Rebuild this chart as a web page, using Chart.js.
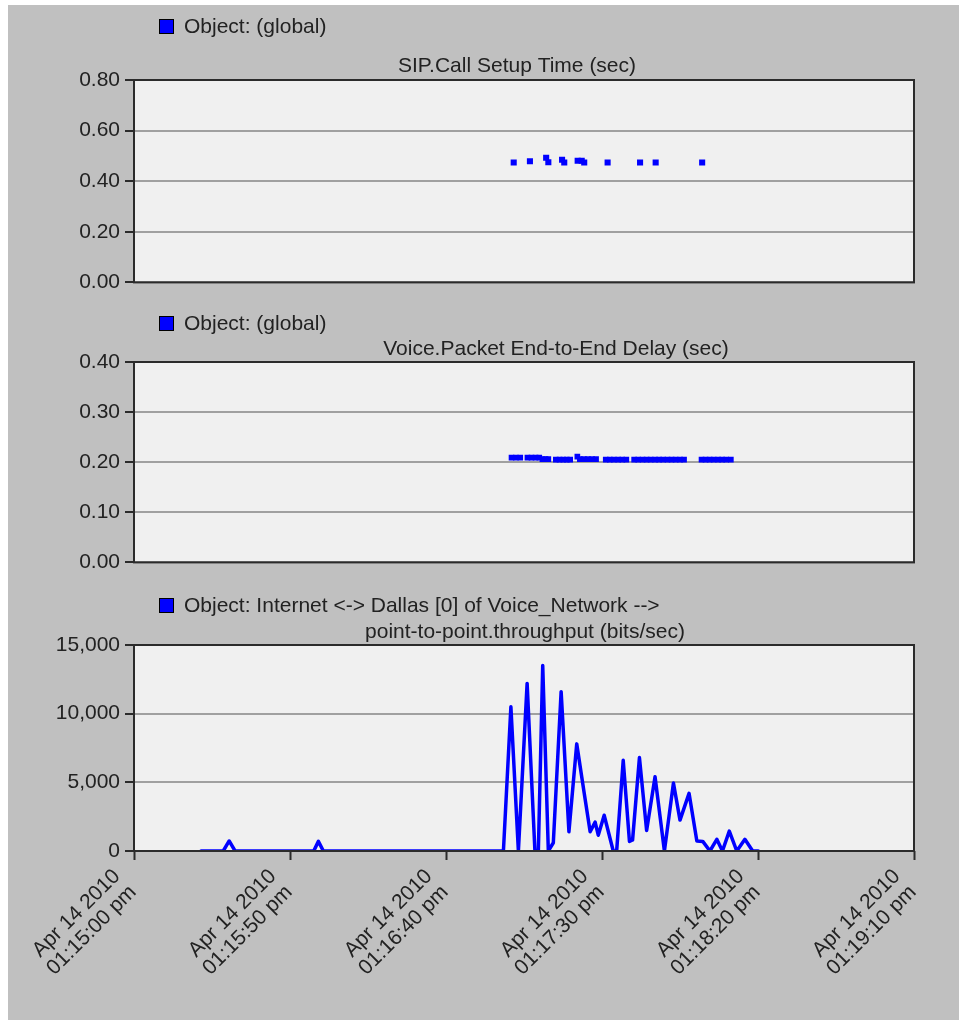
<!DOCTYPE html>
<html>
<head>
<meta charset="utf-8">
<script src="https://cdn.jsdelivr.net/npm/chart.js@4/dist/chart.umd.min.js"></script>
<style>
  html, body { margin: 0; padding: 0; background: #ffffff; }
  #panel { position: absolute; left: 8px; top: 5px; width: 951px; height: 1015px; background: #c0c0c0; }
  #panel canvas { position: absolute; left: 0; }
</style>
</head>
<body>
<div id="panel">
  <canvas id="setup" width="951" height="295" style="top:0px"></canvas>
  <canvas id="delay" width="951" height="280" style="top:295px"></canvas>
  <canvas id="throughput" width="951" height="440" style="top:575px"></canvas>
</div>
<script>
// Seconds elapsed since Apr 14 2010 01:15:00 pm
const timeTickLabels = [
  ['Apr 14 2010', '01:15:00 pm'],
  ['Apr 14 2010', '01:15:50 pm'],
  ['Apr 14 2010', '01:16:40 pm'],
  ['Apr 14 2010', '01:17:30 pm'],
  ['Apr 14 2010', '01:18:20 pm'],
  ['Apr 14 2010', '01:19:10 pm']
];

// SIP.Call Setup Time (sec)
const setupTimes  = [121.7, 126.9, 132.1, 132.8, 137.2, 137.9, 142.2, 143.5, 144.3, 151.8, 162.2, 167.2, 182.1];
const setupValues = [0.474, 0.479, 0.493, 0.475, 0.485, 0.474, 0.481, 0.481, 0.474, 0.474, 0.474, 0.474, 0.474];
const setupTickLabels = ['0.00', '0.20', '0.40', '0.60', '0.80'];

// Voice.Packet End-to-End Delay (sec)
const delayTimes = [
  121.0, 122.4, 123.8,
  126.1, 127.4, 128.7, 129.9,
  130.9, 131.9, 132.8,
  135.2, 136.4, 137.6, 138.7, 139.8,
  142.1,
  142.9, 144.2, 145.5, 146.8, 148.1,
  151.2, 152.5, 153.8, 155.2, 156.5, 157.8,
  160.3, 161.6, 163.0, 164.3, 165.6, 167.0, 168.3, 169.6, 171.0, 172.3, 173.6, 175.0, 176.3,
  181.9, 183.2, 184.5, 185.8, 187.2, 188.5, 189.8, 191.3
];
const delayValues = [
  0.209, 0.209, 0.209,
  0.209, 0.209, 0.209, 0.209,
  0.206, 0.206, 0.206,
  0.205, 0.205, 0.205, 0.205, 0.205,
  0.211,
  0.206, 0.206, 0.206, 0.206, 0.206,
  0.205, 0.205, 0.205, 0.205, 0.205, 0.205,
  0.205, 0.205, 0.205, 0.205, 0.205, 0.205, 0.205, 0.205, 0.205, 0.205, 0.205, 0.205, 0.205,
  0.205, 0.205, 0.205, 0.205, 0.205, 0.205, 0.205, 0.205
];
const delayTickLabels = ['0.00', '0.10', '0.20', '0.30', '0.40'];

// point-to-point.throughput (bits/sec), Internet <-> Dallas link
const throughputTimes = [
  21.5, 28.6, 30.5, 32.4, 57.6, 59.1, 60.7,
  118.4, 120.8, 123.2, 126.0, 128.5, 129.6, 131.0, 132.8, 134.4, 136.9, 139.4,
  141.9, 144.3, 146.2, 147.8, 148.8, 150.7, 153.6, 154.7, 156.8, 158.8, 159.8,
  162.0, 164.3, 167.0, 170.0, 172.9, 175.0, 177.9, 180.4, 182.3, 184.6,
  186.8, 188.6, 190.8, 193.2, 195.8, 198.3, 200.1
];
const throughputValues = [
  0, 0, 730, 0, 0, 700, 0,
  0, 10500, 0, 12200, 0, 0, 13500, 0, 600, 11600, 1400,
  7800, 4200, 1400, 2100, 1150, 2600, 0, 0, 6600, 700, 800,
  6800, 1500, 5400, 0, 4950, 2250, 4200, 730, 700, 0,
  850, 0, 1450, 0, 850, 0, 0
];
const throughputTickLabels = ['0', '5,000', '10,000', '15,000'];

const FONT_FAMILY = '"Liberation Sans", Arial, sans-serif';
const FONT_SIZE = 21;
const TEXT_COLOR = '#222222';
const SERIES_BLUE = '#0000ff';

Chart.defaults.font.family = FONT_FAMILY;
Chart.defaults.font.size = FONT_SIZE;
Chart.defaults.color = TEXT_COLOR;

// Plot background, legend swatch, legend text, title, and the dark frame round the plot
const panelPlugin = {
  id: 'panel',
  beforeDraw(chart, args, o) {
    const { ctx, chartArea: a } = chart;
    ctx.save();
    ctx.fillStyle = '#f0f0f0';
    ctx.fillRect(a.left, a.top, a.right - a.left, a.bottom - a.top);
    ctx.fillStyle = SERIES_BLUE;
    ctx.fillRect(o.boxX, o.boxY, 15, 15);
    ctx.strokeStyle = '#000000';
    ctx.lineWidth = 1;
    ctx.strokeRect(o.boxX + 0.5, o.boxY + 0.5, 14, 14);
    ctx.fillStyle = TEXT_COLOR;
    ctx.font = FONT_SIZE + 'px ' + FONT_FAMILY;
    ctx.textBaseline = 'middle';
    ctx.textAlign = 'left';
    ctx.fillText(o.legend, o.textX, o.legendY);
    ctx.textAlign = 'center';
    ctx.fillText(o.title, o.titleX, o.titleY);
    ctx.restore();
  },
  afterDatasetsDraw(chart) {
    const { ctx, chartArea: a } = chart;
    ctx.save();
    ctx.strokeStyle = '#2b2b2b';
    ctx.lineWidth = 2;
    ctx.strokeRect(a.left, a.top, a.right - a.left, a.bottom - a.top);
    ctx.restore();
  }
};

function points(xs, ys) {
  return xs.map((x, i) => ({ x: x, y: ys[i] }));
}

function yAxis(max, step, labels) {
  return {
    min: 0, max: max,
    afterFit(scale) { scale.width = 126; },
    afterBuildTicks(scale) {
      scale.ticks = labels.map((_, i) => ({ value: +(i * step).toFixed(6) }));
    },
    ticks: {
      padding: 5,
      color: TEXT_COLOR,
      callback: (v, i) => labels[i]
    },
    grid: {
      color: '#a0a0a0', lineWidth: 2,
      drawTicks: true, tickLength: 9, tickColor: '#2b2b2b', tickWidth: 2
    },
    border: { display: false }
  };
}

function xAxis(showLabels) {
  const axis = {
    type: 'linear', min: 0, max: 250,
    display: showLabels,
    afterBuildTicks(scale) {
      scale.ticks = timeTickLabels.map((_, i) => ({ value: i * 50 }));
    },
    border: { display: false },
    grid: {
      drawOnChartArea: false, drawTicks: true,
      tickLength: 9, tickColor: '#2b2b2b', tickWidth: 2
    },
    ticks: {
      minRotation: 45, maxRotation: 45, autoSkip: false,
      padding: 5, labelOffset: -17, color: TEXT_COLOR,
      font: { size: FONT_SIZE, lineHeight: 1.08 },
      callback: (v, i) => timeTickLabels[i]
    }
  };
  if (showLabels) axis.afterFit = (scale) => { scale.height = 169; };
  return axis;
}

function baseOptions(pad, header, yax, showX) {
  return {
    responsive: false,
    animation: false,
    devicePixelRatio: 1,
    layout: { padding: pad },
    plugins: { legend: { display: false }, tooltip: { enabled: false }, panel: header },
    scales: { x: xAxis(showX), y: yax }
  };
}

new Chart(document.getElementById('setup'), {
  type: 'scatter',
  data: { datasets: [{
    label: 'Object: (global)',
    data: points(setupTimes, setupValues),
    pointStyle: 'rect', pointRadius: 4.3, pointBorderWidth: 0,
    backgroundColor: SERIES_BLUE, borderColor: SERIES_BLUE, showLine: false
  }]},
  options: baseOptions(
    { top: 75, bottom: 14, left: 0, right: 45 },
    { boxX: 151, boxY: 14, textX: 176, legendY: 22, legend: 'Object: (global)',
      title: 'SIP.Call Setup Time (sec)', titleX: 509, titleY: 61 },
    yAxis(0.8, 0.2, setupTickLabels), false),
  plugins: [panelPlugin]
});

new Chart(document.getElementById('delay'), {
  type: 'scatter',
  data: { datasets: [{
    label: 'Object: (global)',
    data: points(delayTimes, delayValues),
    pointStyle: 'rect', pointRadius: 4, pointBorderWidth: 0,
    backgroundColor: SERIES_BLUE, borderColor: SERIES_BLUE, showLine: false
  }]},
  options: baseOptions(
    { top: 62, bottom: 12, left: 0, right: 45 },
    { boxX: 151, boxY: 16, textX: 176, legendY: 24, legend: 'Object: (global)',
      title: 'Voice.Packet End-to-End Delay (sec)', titleX: 548, titleY: 49 },
    yAxis(0.4, 0.1, delayTickLabels), false),
  plugins: [panelPlugin]
});

new Chart(document.getElementById('throughput'), {
  type: 'line',
  data: { datasets: [{
    label: 'Object: Internet <-> Dallas [0] of Voice_Network -->',
    data: points(throughputTimes, throughputValues),
    borderColor: SERIES_BLUE, borderWidth: 3.5, pointRadius: 0,
    borderJoinStyle: 'round', borderCapStyle: 'round',
    tension: 0, fill: false
  }]},
  options: baseOptions(
    { top: 65, bottom: 0, left: 0, right: 45 },
    { boxX: 151, boxY: 18, textX: 176, legendY: 26,
      legend: 'Object: Internet <-> Dallas [0] of Voice_Network -->',
      title: 'point-to-point.throughput (bits/sec)', titleX: 517, titleY: 52 },
    yAxis(15000, 5000, throughputTickLabels), true),
  plugins: [panelPlugin]
});
</script>
</body>
</html>
